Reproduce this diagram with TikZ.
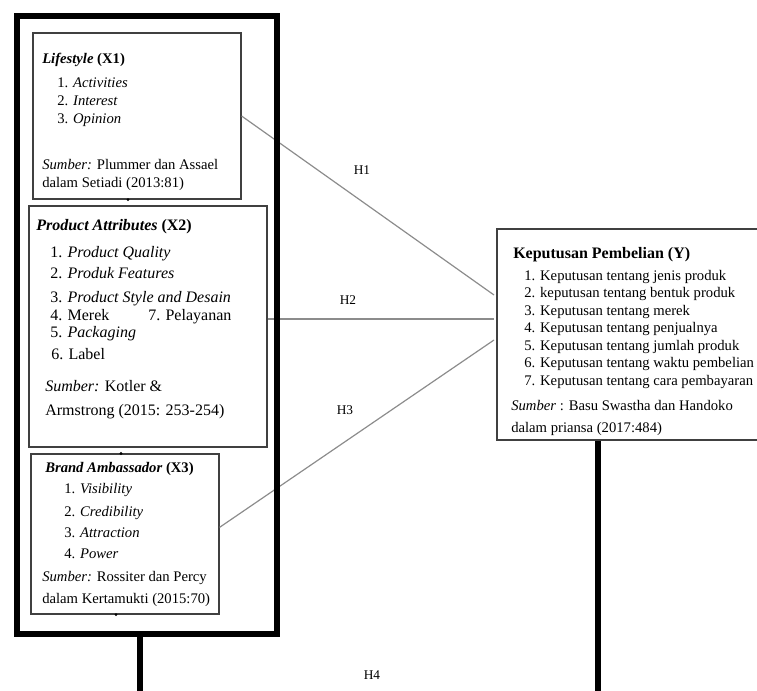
\documentclass[tikz,border=0pt]{standalone}
\usepackage{fontspec}
\setmainfont{Liberation Serif}
\begin{document}
\begin{tikzpicture}
  [x=0.75pt,y=-0.75pt,
   box/.style={draw=black!75,line width=0.9pt,inner sep=0pt},
   frame/.style={draw,line width=4.5pt,inner sep=0pt},
   txt/.style={anchor=base west,inner sep=0pt,font=\fontsize{11}{13}\selectfont},
   big/.style={txt,font=\fontsize{12}{14}\selectfont},
   hyp/.style={draw=black!45,line width=0.9pt},
   bar/.style={line width=4pt},
   lbl/.style={font=\fontsize{10}{12}\selectfont}]
  \useasboundingbox (0,0) rectangle (757,690);
  \clip (0,0) rectangle (757,690);

  \node[box,minimum width=156pt,minimum height=124.5pt] (ls) at (137,116) {};
  \node[box,minimum width=178.5pt,minimum height=180.75pt] (pa) at (148,326.5) {};
  \node[box,minimum width=141pt,minimum height=120pt] (ba) at (125,534) {};
  \node[box,minimum width=208.5pt,minimum height=158.25pt] (kp) at (636,334.5) {};

  \node[txt] (ls-t) at (42,63) {\textbf{\textit{Lifestyle} (X1)}};
  \foreach \i/\y/\lab in {1/87/Activities,2/105/Interest,3/123/Opinion}
    \node[txt] (ls-\i) at (57,\y) {\i. \textit{\lab}};
  \node[txt] (ls-s1) at (42,169) {\textit{Sumber:} Plummer dan Assael};
  \node[txt] (ls-s2) at (42,187) {dalam Setiadi (2013:81)};

  \node[big] (pa-t) at (36,230) {\textbf{\textit{Product Attributes} (X2)}};
  \node[big] (pa-1) at (50,257) {1. \textit{Product Quality}};
  \node[big] (pa-2) at (50,278) {2. \textit{Produk Features}};
  \node[big] (pa-3) at (50,302) {3. \textit{Product Style and Desain}};
  \node[big] (pa-4) at (50,320) {4. Merek};
  \node[big] (pa-7) at (148,320) {7. Pelayanan};
  \node[big] (pa-5) at (50,337) {5. \textit{Packaging}};
  \node[big] (pa-6) at (51,359) {6. Label};
  \node[big] (pa-s1) at (45,391) {\textit{Sumber:} Kotler \&};
  \node[big] (pa-s2) at (45,415) {Armstrong (2015: 253-254)};

  \node[txt] (ba-t) at (45,472) {\textbf{\textit{Brand Ambassador} (X3)}};
  \foreach \i/\y/\lab in {1/493/Visibility,2/516/Credibility,3/537/Attraction,4/558/Power}
    \node[txt] (ba-\i) at (64,\y) {\i. \textit{\lab}};
  \node[txt] (ba-s1) at (42,581) {\textit{Sumber:} Rossiter dan Percy};
  \node[txt] (ba-s2) at (42,603) {dalam Kertamukti (2015:70)};

  \node[big] (kp-t) at (513,258) {\textbf{Keputusan Pembelian (Y)}};
  \foreach \i/\lab in {1/Keputusan tentang jenis produk,2/keputusan tentang bentuk produk,
      3/Keputusan tentang merek,4/Keputusan tentang penjualnya,5/Keputusan tentang jumlah produk,
      6/Keputusan tentang waktu pembelian,7/Keputusan tentang cara pembayaran}
    \node[txt] (kp-\i) at (524,{262.5+17.5*\i}) {\i. \lab};
  \node[txt] (kp-s1) at (511,410) {\textit{Sumber} : Basu Swastha dan Handoko};
  \node[txt] (kp-s2) at (511,432) {dalam priansa (2017:484)};

  \coordinate (y1) at (494,295);
  \coordinate (y2) at (494,319);
  \coordinate (y3) at (494,340);
  \draw[hyp] (ls.east) -- (y1);
  \draw[hyp] (pa.east |- y2) -- (y2);
  \draw[hyp] ([yshift=5pt]ba.east) -- (y3);
  \node[lbl] (h1) at (362,170) {H1};
  \node[lbl] (h2) at (348,300) {H2};
  \node[lbl] (h3) at (345,410) {H3};
  \node[lbl] (h4) at (372,675) {H4};

  \node[frame,minimum width=195pt,minimum height=463.5pt] (frame) at (147,325) {};
  \coordinate (l4) at (140,700);
  \coordinate (r4) at (598,700);
  \draw[bar] (frame.south -| l4) -- (l4);
  \draw[bar] (kp.south -| r4) -- (r4);

  \fill (ls.south -| 128,0) circle (1.2pt);
  \fill (ba.north -| 121,0) circle (1.2pt);
  \fill (ba.south -| 116,0) circle (1.2pt);
\end{tikzpicture}
\end{document}
